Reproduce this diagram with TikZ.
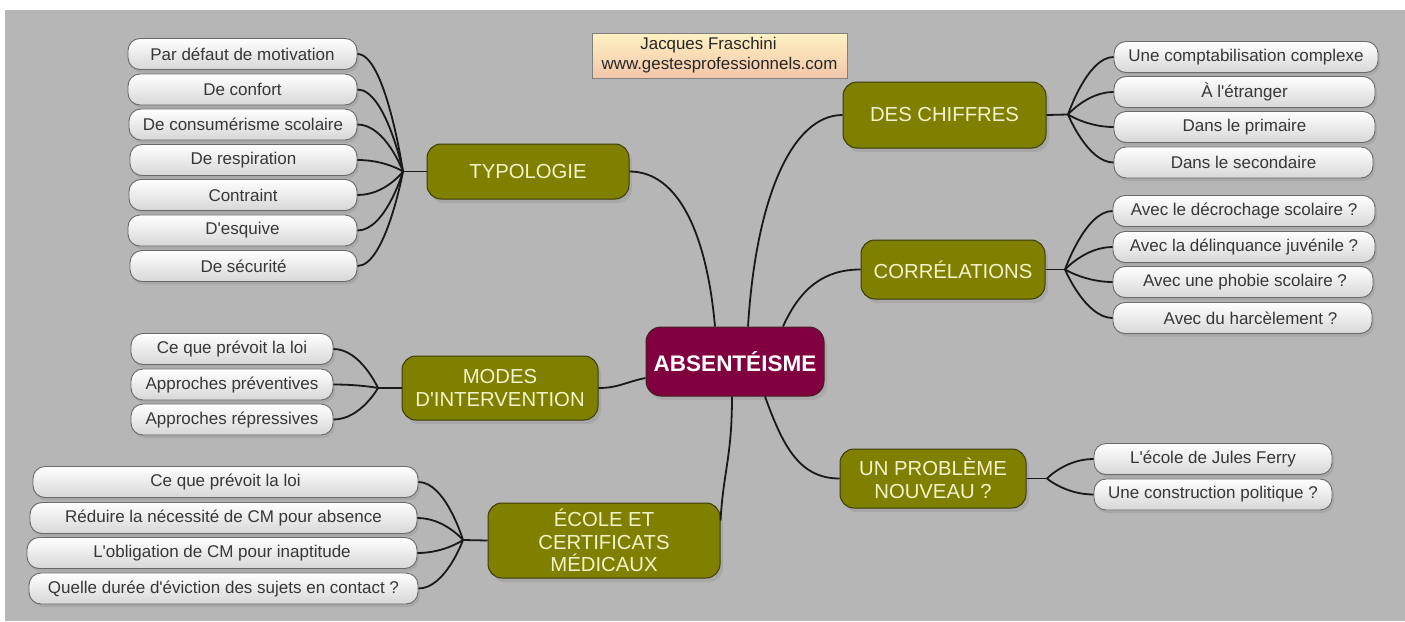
\documentclass[tikz,border=0pt]{standalone}
\usepackage{fontspec}
\setmainfont{Liberation Sans}
\newfontfamily\lsans{Liberation Sans}
\usetikzlibrary{shadows,calc}
\definecolor{bgc}{RGB}{182,182,182}
\definecolor{olivebox}{RGB}{128,128,0}
\definecolor{oliveedge}{RGB}{60,60,10}
\definecolor{olivetext}{RGB}{242,242,205}
\definecolor{maroonbox}{RGB}{128,0,64}
\definecolor{maroonedge}{RGB}{70,30,40}
\definecolor{leaftext}{RGB}{55,55,55}
\definecolor{leafedge}{RGB}{105,105,105}
\definecolor{leafbottom}{RGB}{215,215,215}
\definecolor{authtop}{RGB}{255,242,195}
\definecolor{authbot}{RGB}{242,198,170}
\definecolor{wirec}{RGB}{25,25,25}
\begin{document}
\begin{tikzpicture}[x=1pt,y=-1pt,
  leaf/.style={draw=leafedge, line width=0.9pt, rounded corners=12pt,
    top color=white, bottom color=leafbottom, text=leaftext,
    font=\lsans\fontsize{17}{20}\selectfont, inner sep=0pt, minimum height=31pt,
    drop shadow={shadow xshift=2pt, shadow yshift=-3pt, opacity=0.25}},
  branch/.style={draw=oliveedge, line width=1pt, fill=olivebox, rounded corners=14pt,
    text=olivetext, font=\lsans\fontsize{20.3}{22.5}\selectfont, align=center, inner sep=0pt,
    drop shadow={shadow xshift=3pt, shadow yshift=-4pt, opacity=0.25}},
  root/.style={draw=maroonedge, line width=1pt, fill=maroonbox, rounded corners=15pt,
    text=white, font=\lsans\fontsize{22.5}{26}\selectfont\bfseries, inner sep=0pt,
    drop shadow={shadow xshift=3pt, shadow yshift=-4pt, opacity=0.25}},
  author/.style={draw=gray, line width=0.8pt, top color=authtop, bottom color=authbot,
    text=black!85, font=\lsans\fontsize{16.9}{20}\selectfont, align=center, inner sep=0pt},
  wire/.style={draw=wirec, line width=1.8pt}
]
\fill[white] (0,0) rectangle (1405,621);
\useasboundingbox (0,0) rectangle (1405,621);
\fill[bgc] (5,10) rectangle (1405,621);

% author
\node[author, minimum width=255pt, minimum height=45pt] (au) at (719.5,55.5)
  {Jacques Fraschini\hspace*{22pt}\\www.gestesprofessionnels.com};

% root and branches
\node[root, minimum width=178pt, minimum height=69pt] (c) at (735,361.5) {ABSENTÉISME};
\node[branch, minimum width=202pt, minimum height=55pt] (typ) at (528,171.5) {TYPOLOGIE};
\node[branch, minimum width=203pt, minimum height=66pt] (chif) at (944.5,115) {DES CHIFFRES};
\node[branch, minimum width=184pt, minimum height=59pt] (corr) at (953,269.5) {CORRÉLATIONS};
\node[branch, minimum width=186pt, minimum height=59pt] (prob) at (933,478.5) {UN PROBLÈME\\NOUVEAU ?};
\node[branch, minimum width=196pt, minimum height=64pt] (modes) at (500,388) {MODES\\D'INTERVENTION};
\node[branch, minimum width=232pt, minimum height=75pt] (ecole) at (604,540.5) {ÉCOLE ET\\CERTIFICATS\\MÉDICAUX};

% typology leaves
\node[leaf, minimum width=229pt] (t1) at (242.5,54) {Par défaut de motivation};
\node[leaf, minimum width=229pt] (t2) at (242.5,89.5) {De confort};
\node[leaf, minimum width=228pt] (t3) at (243,124.5) {De consumérisme scolaire};
\node[leaf, minimum width=227pt] (t4) at (243.5,160) {De respiration};
\node[leaf, minimum width=228pt] (t5) at (243,195) {Contraint};
\node[leaf, minimum width=229pt] (t6) at (242.5,230.5) {D'esquive};
\node[leaf, minimum width=227pt] (t7) at (243.5,266) {De sécurité};

% chiffres leaves
\node[leaf, minimum width=264pt] (d1) at (1246,57) {Une comptabilisation complexe};
\node[leaf, minimum width=261pt] (d2) at (1244.5,92) {À l'étranger};
\node[leaf, minimum width=261pt] (d3) at (1244.5,127) {Dans le primaire};
\node[leaf, minimum width=259pt] (d4) at (1243.5,162.5) {Dans le secondaire};

% correlations leaves
\node[leaf, minimum width=262pt] (k1) at (1244,211) {Avec le décrochage scolaire ?};
\node[leaf, minimum width=262pt] (k2) at (1244,247) {Avec la délinquance juvénile ?};
\node[leaf, minimum width=260pt] (k3) at (1243,282) {\hspace*{4pt}Avec une phobie scolaire ?};
\node[leaf, minimum width=259pt] (k4) at (1242.5,318) {\hspace*{16pt}Avec du harcèlement ?};

% probleme leaves
\node[leaf, minimum width=238pt] (p1) at (1213,459) {L'école de Jules Ferry};
\node[leaf, minimum width=238pt] (p2) at (1213,494.5) {Une construction politique ?};

% modes leaves
\node[leaf, minimum width=202pt] (m1) at (232,349) {Ce que prévoit la loi};
\node[leaf, minimum width=202pt] (m2) at (232,384.5) {Approches préventives};
\node[leaf, minimum width=202pt] (m3) at (232,419.5) {Approches répressives};

% ecole leaves
\node[leaf, minimum width=385pt] (e1) at (225.5,482) {Ce que prévoit la loi};
\node[leaf, minimum width=387pt] (e2) at (223.5,518) {Réduire la nécessité de CM pour absence};
\node[leaf, minimum width=390pt] (e3) at (222,553) {L'obligation de CM pour inaptitude};
\node[leaf, minimum width=389pt] (e4) at (223.5,588.5) {Quelle durée d'éviction des sujets en contact ?};

% junctions
\coordinate (jt) at (403,171.5);
\coordinate (jd) at (1068,114.5);
\coordinate (jk) at (1065,269.5);
\coordinate (jp) at (1047,478.5);
\coordinate (jm) at (378,388);
\coordinate (je) at (463,540);

% root connectors
\draw[wire] (typ.east) .. controls +(50,0) and +(-8,-90) .. ($(c.north)+(-20,0)$);
\draw[wire] ($(c.north)+(13,0)$) .. controls +(8,-130) and +(-50,0) .. (chif.west);
\draw[wire] ($(c.north)+(48,0)$) .. controls +(18,-40) and +(-35,0) .. (corr.west);
\draw[wire] ($(c.south)+(30,0)$) .. controls +(18,50) and +(-40,0) .. (prob.west);
\draw[wire] ($(c.south)+(-3,0)$) .. controls +(0,60) and +(3,-50) .. ($(ecole.east)+(0,-20)$);
\draw[wire] ($(c.west)+(0,16.5)$) .. controls +(-20,4) and +(20,0) .. (modes.east);

% branch stems
\draw[wire] (typ.west) -- (jt);
\draw[wire] (chif.east) -- (jd);
\draw[wire] (corr.east) -- (jk);
\draw[wire] (prob.east) -- (jp);
\draw[wire] (modes.west) -- (jm);
\draw[wire] (ecole.west) -- (je);

% leaf connectors
\foreach \n in {t1,t2,t3,t4,t5,t6,t7}
  \draw[wire] (\n.east) .. controls +(28,0) and (jt) .. (jt);
\foreach \n in {d1,d2,d3,d4}
  \draw[wire] (\n.west) .. controls +(-26,0) and (jd) .. (jd);
\foreach \n in {k1,k2,k3,k4}
  \draw[wire] (\n.west) .. controls +(-27,0) and (jk) .. (jk);
\foreach \n in {p1,p2}
  \draw[wire] (\n.west) .. controls +(-28,0) and (jp) .. (jp);
\foreach \n in {m1,m2,m3}
  \draw[wire] (\n.east) .. controls +(27,0) and (jm) .. (jm);
\foreach \n in {e1,e2,e3,e4}
  \draw[wire] (\n.east) .. controls +(27,0) and (je) .. (je);
\end{tikzpicture}
\end{document}
